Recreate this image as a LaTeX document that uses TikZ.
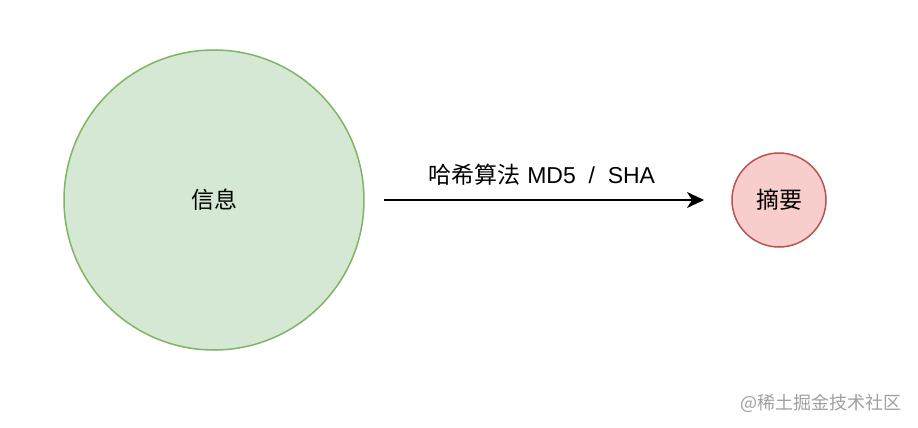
\documentclass[tikz,border=0pt]{standalone}
\usepackage{fontspec}
\setmainfont{Liberation Sans}
\newfontfamily\cjk{Noto Sans CJK SC}
\usetikzlibrary{arrows.meta}
\definecolor{gfill}{HTML}{D5E8D4}
\definecolor{gdraw}{HTML}{82B366}
\definecolor{rfill}{HTML}{F8CECC}
\definecolor{rdraw}{HTML}{B85450}
\definecolor{wm}{HTML}{A0A0A0}
\tikzset{
  bubble/.style={circle, inner sep=0pt, line width=1.5pt, font=\cjk\fontsize{23}{26}\selectfont},
  conn/.style={line width=2pt, -{Stealth[length=17pt,width=16pt,inset=5pt]}},
}
\begin{document}
\begin{tikzpicture}[x=1pt,y=-1pt]
\useasboundingbox[fill=white] (0,0) rectangle (918,428);
\node[bubble, minimum size=300pt, fill=gfill, draw=gdraw] (info) at (214,200) {信息};
\node[bubble, minimum size=94pt, fill=rfill, draw=rdraw] (digest) at (779,200) {摘要};
\coordinate (s) at (384,200);
\coordinate (e) at (704,200);
\draw[conn] (s) -- (e);
\node[font=\fontsize{23}{26}\selectfont, inner sep=0pt] (lbl) at (542,175) {{\cjk 哈希算法} MD5 \ / \ SHA};
\node[font=\cjk\fontsize{18}{20}\selectfont, text=wm, anchor=east] (mark) at (905,403) {@稀土掘金技术社区};
\end{tikzpicture}
\end{document}
